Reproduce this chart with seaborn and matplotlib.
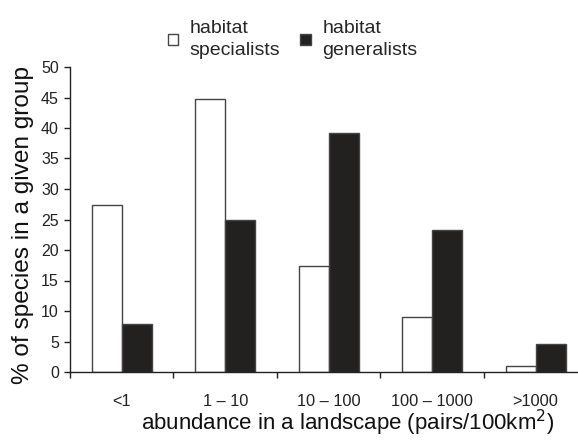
import matplotlib
matplotlib.use("Agg")
import matplotlib.pyplot as plt
import seaborn as sns
import pandas as pd

categories = ["<1", "1 \u2013 10", "10 \u2013 100", "100 \u2013 1000", ">1000"]
specialists = [27.4, 44.8, 17.3, 9.0, 1.0]
generalists = [7.8, 25.0, 39.1, 23.3, 4.6]
groups = ["habitat\nspecialists", "habitat\ngeneralists"]
yticks = [0, 5, 10, 15, 20, 25, 30, 35, 40, 45, 50]

df = pd.DataFrame({
    "category": categories * 2,
    "value": specialists + generalists,
    "group": [groups[0]] * len(categories) + [groups[1]] * len(categories),
})

sns.set_style("white")
plt.rcParams["font.family"] = ["Liberation Sans", "DejaVu Sans"]

fig = plt.figure(figsize=(5.78, 4.41), dpi=100)
ax = fig.add_axes([70 / 578, 1 - 372 / 441, 1 - 70 / 578, (372 - 67) / 441])

sns.barplot(data=df, x="category", y="value", hue="group", order=categories,
            hue_order=groups, palette=["white", "#231f20"], width=0.58, gap=0,
            edgecolor="#444444", linewidth=1.0, ax=ax, legend=True)

ax.set_ylim(0, 50)
ax.set_yticks(yticks)
ax.set_xlim(-0.5, 4.41)
ax.set_xticks([i - 0.5 for i in range(len(categories))], minor=False)
ax.set_xticklabels([])
for i, c in enumerate(categories):
    ax.text(i, -3.6, c, ha="center", va="top", fontsize=11.8, color="#222222")
ax.tick_params(axis="y", which="major", left=True, direction="out", length=4,
               width=1, color="#222222", labelsize=11.5, labelcolor="#222222", pad=4)
ax.tick_params(axis="x", which="major", bottom=True, direction="out", length=4,
               width=1, color="#222222")
for s in ["top", "right"]:
    ax.spines[s].set_visible(False)
for s in ["left", "bottom"]:
    ax.spines[s].set_color("#222222")
    ax.spines[s].set_linewidth(1.0)

ax.set_xlabel("abundance in a landscape (pairs/100km$^2$)", fontsize=16.0,
              color="#111111")
ax.xaxis.set_label_coords((348 - 70) / 508, -(423 - 372) / 305)
ax.xaxis.label.set_va("center")
ax.set_ylabel("% of species in a given group", fontsize=17.6, color="#111111")
ax.yaxis.set_label_coords(-(70 - 23) / 508, (372 - 225) / 305)
ax.yaxis.label.set_va("center")

handles, labels = ax.get_legend_handles_labels()
leg = ax.legend(handles, labels, loc="upper left",
                bbox_to_anchor=(150 / 578, 1 - 3 / 441),
                bbox_transform=fig.transFigure, ncol=2, frameon=False,
                fontsize=14, handlelength=0.55, handleheight=0.55,
                handletextpad=0.6, columnspacing=1.0, labelspacing=0.2)
for t in leg.get_texts():
    t.set_linespacing(1.35)

fig.savefig("out.png", dpi=100)
